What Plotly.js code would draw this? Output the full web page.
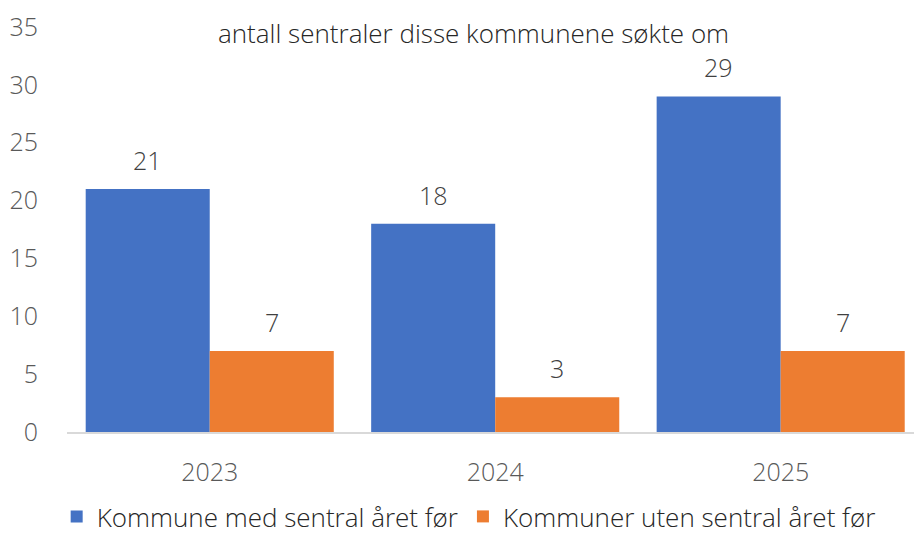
<!DOCTYPE html>
<html>
<head>
<meta charset="utf-8">
<script src="https://cdn.plot.ly/plotly-3.0.1.min.js"></script>
<style>html,body{margin:0;padding:0;background:#fff;}#chart{width:914px;height:540px;}</style>
</head>
<body>
<div id="chart"></div>
<script>
const categories = ["2023", "2024", "2025"];
const seriesNames = ["Kommune med sentral året før", "Kommuner uten sentral året før"];
const withCentral = [21, 18, 29];
const withoutCentral = [7, 3, 7];
const yTicks = [0, 5, 10, 15, 20, 25, 30, 35];
const chartTitle = "antall sentraler disse kommunene søkte om";

const FONT = "Open Sans";
const colors = ["#4472C4", "#ED7D31"];
const series = [withCentral, withoutCentral];

const traces = series.map((vals, i) => ({
  type: "bar",
  name: seriesNames[i],
  x: categories,
  y: vals,
  marker: {color: colors[i]},
  hoverinfo: "skip"
}));

const annotations = [];
series.forEach((vals, i) => {
  vals.forEach((v, j) => {
    annotations.push({
      x: j, y: v, xref: "x", yref: "y",
      text: String(v), showarrow: false,
      xshift: (i === 0 ? -62 : 62), yshift: 29,
      font: {family: FONT, size: 25, color: "#404040", weight: 300}
    });
  });
});
annotations.push({
  xref: "paper", yref: "paper", x: 0.48, y: 1, yshift: -6, yanchor: "middle",
  text: chartTitle, showarrow: false,
  font: {family: FONT, size: 26, color: "#262626", weight: 300}
});

const layout = {
  width: 914, height: 540,
  margin: {l: 67, r: 0, t: 27, b: 108, autoexpand: false},
  paper_bgcolor: "#fff", plot_bgcolor: "#fff",
  barmode: "group", bargap: 0.131, bargroupgap: 0,
  showlegend: true,
  legend: {orientation: "h", xref: "container", x: 0.062, xanchor: "left", yref: "container", y: 0, yanchor: "bottom",
    font: {family: FONT, size: 26, color: "#262626", weight: 300}, itemwidth: 30},
  xaxis: {type: "category", range: [-0.5, 2.467], showline: true, linecolor: "#D9D9D9", linewidth: 2,
    ticks: "", showgrid: false, zeroline: false,
    tickfont: {family: FONT, size: 25, color: "#595959", weight: 300}, ticklabelstandoff: 17},
  yaxis: {range: [0, 35], tickvals: yTicks, showgrid: false, zeroline: false, showline: false,
    ticks: "", tickfont: {family: FONT, size: 25, color: "#595959", weight: 300}, ticklabelstandoff: 28},
  annotations: annotations
};

Plotly.newPlot("chart", traces, layout, {displayModeBar: false, staticPlot: true});
</script>
</body>
</html>
